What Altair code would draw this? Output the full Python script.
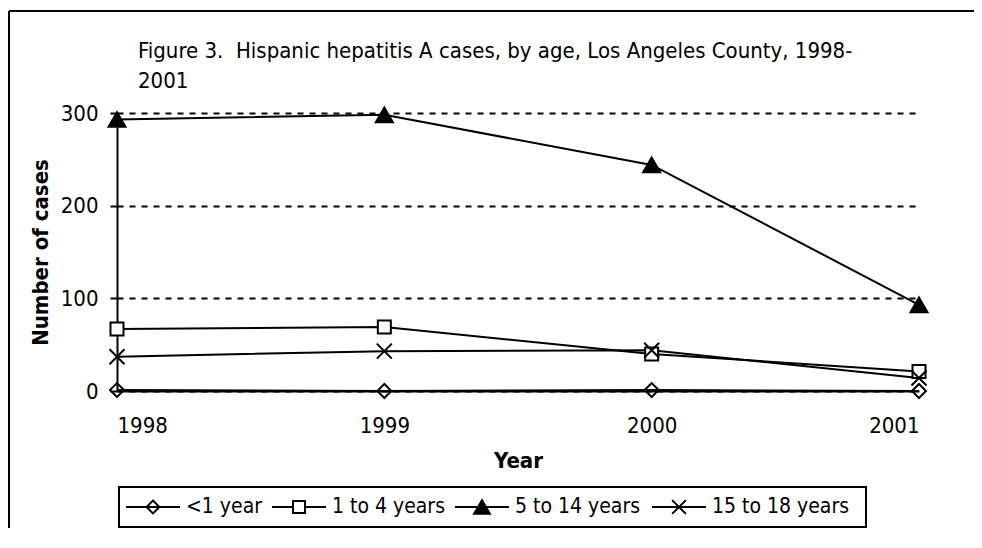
import altair as alt
import pandas as pd

YEARS = [1998, 1999, 2000, 2001]
SERIES = ["<1 year", "1 to 4 years", "5 to 14 years", "15 to 18 years"]
UNDER_1 = [1, 0, 1, 0]
AGE_1_4 = [67, 69, 40, 21]
AGE_5_14 = [293, 298, 244, 93]
AGE_15_18 = [37, 43, 44, 14]
Y_TICKS = [0, 100, 200, 300]
TITLE_LINES = ["Figure 3.\u00a0 Hispanic hepatitis A cases, by age, Los Angeles County, 1998-", "2001"]
X_TITLE = "Year"
Y_TITLE = "Number of cases"

rows = []
for name, vals in zip(SERIES, [UNDER_1, AGE_1_4, AGE_5_14, AGE_15_18]):
    for yr, v in zip(YEARS, vals):
        rows.append({"Year": yr, "Cases": v, "Series": name})
df = pd.DataFrame(rows)

FONT = "DejaVu Sans Condensed, DejaVu Sans"
X_PATH = "M-1,-1L1,1M-1,1L1,-1"
STYLES = [
    dict(shape="diamond", size=196, fill="transparent"),
    dict(shape="square", size=169, fill="white"),
    dict(shape="triangle-up", size=289, fill="black"),
    dict(shape=X_PATH, size=225, fill="transparent"),
]

W, H = 802, 278
PAD = {"left": 109, "top": 105, "right": 55, "bottom": 137}

x_enc = alt.X(
    "Year:Q",
    scale=alt.Scale(domain=[YEARS[0], YEARS[-1]], nice=False, zero=False),
    axis=alt.Axis(
        values=YEARS, format="d", ticks=False, tickSize=0, grid=False,
        domainColor="black", domainWidth=2, labelPadding=24, labelFontSize=22,
        title=X_TITLE, titleFontSize=22, titleFontWeight="bold",
        titleBaseline="alphabetic", titleY=76,
    ),
)
y_enc = alt.Y(
    "Cases:Q",
    scale=alt.Scale(domain=[0, 300], nice=False),
    axis=alt.Axis(
        values=Y_TICKS, tickSize=7, tickWidth=2, tickColor="black",
        domainColor="black", domainWidth=2, labelPadding=12, labelFontSize=22,
        grid=True, gridColor="black", gridWidth=2, gridDash=[6, 6],
        title=Y_TITLE, titleFontSize=22, titleFontWeight="bold",
        titleAngle=270, titleBaseline="alphabetic", titleAlign="center",
        titleX=-70, titleY=H / 2,
    ),
)

one = pd.DataFrame({"k": [0]})

frame_left = alt.Chart(one).mark_rule(color="black", strokeWidth=2).encode(
    x=alt.value(-108), y=alt.value(-102), y2=alt.value(440))
frame_top = alt.Chart(one).mark_rule(color="black", strokeWidth=2).encode(
    x=alt.value(-108), x2=alt.value(900), y=alt.value(-102))

title = alt.Chart(one).mark_text(
    align="left", baseline="alphabetic", font=FONT, fontSize=22, lineHeight=30, color="black"
).encode(x=alt.value(21), y=alt.value(-55), text=alt.value(TITLE_LINES))

lines = alt.Chart(df).mark_line(color="black", strokeWidth=2).encode(
    x=x_enc, y=y_enc, detail="Series:N")

point_layers = []
for name, st in zip(SERIES, STYLES):
    point_layers.append(
        alt.Chart(df).transform_filter(alt.datum.Series == name).mark_point(
            shape=st["shape"], size=st["size"], fill=st["fill"], stroke="black",
            strokeWidth=2, opacity=1, fillOpacity=1,
        ).encode(x=x_enc, y=y_enc)
    )

# legend (layout in pixels relative to plot origin)
LEG_Y = 394
legend_layers = [
    alt.Chart(one).mark_rect(fillOpacity=0, stroke="black", strokeWidth=2).encode(
        x=alt.value(2), x2=alt.value(749), y=alt.value(374), y2=alt.value(414))
]
leg_starts = [9, 155, 338, 535]
for name, st, x0 in zip(SERIES, STYLES, leg_starts):
    legend_layers.append(alt.Chart(one).mark_rule(color="black", strokeWidth=2).encode(
        x=alt.value(x0), x2=alt.value(x0 + 54), y=alt.value(LEG_Y)))
    legend_layers.append(alt.Chart(one).mark_point(
        shape=st["shape"], size=st["size"] * 0.85, fill=st["fill"], stroke="black",
        strokeWidth=2, opacity=1, fillOpacity=1).encode(
        x=alt.value(x0 + 27), y=alt.value(LEG_Y)))
    legend_layers.append(alt.Chart(one).mark_text(
        align="left", baseline="middle", font=FONT, fontSize=21, color="black").encode(
        x=alt.value(x0 + 60), y=alt.value(LEG_Y), text=alt.value(name)))

chart = alt.layer(
    frame_left, frame_top, title, lines, *point_layers, *legend_layers
).properties(
    width=W, height=H,
    autosize=alt.AutoSizeParams(type="none"),
    padding=PAD,
).configure_view(strokeWidth=0).configure_axis(
    labelFont=FONT, titleFont=FONT, labelColor="black", titleColor="black"
)

chart.save("out.html", embed_options={"renderer": "svg", "actions": False})
